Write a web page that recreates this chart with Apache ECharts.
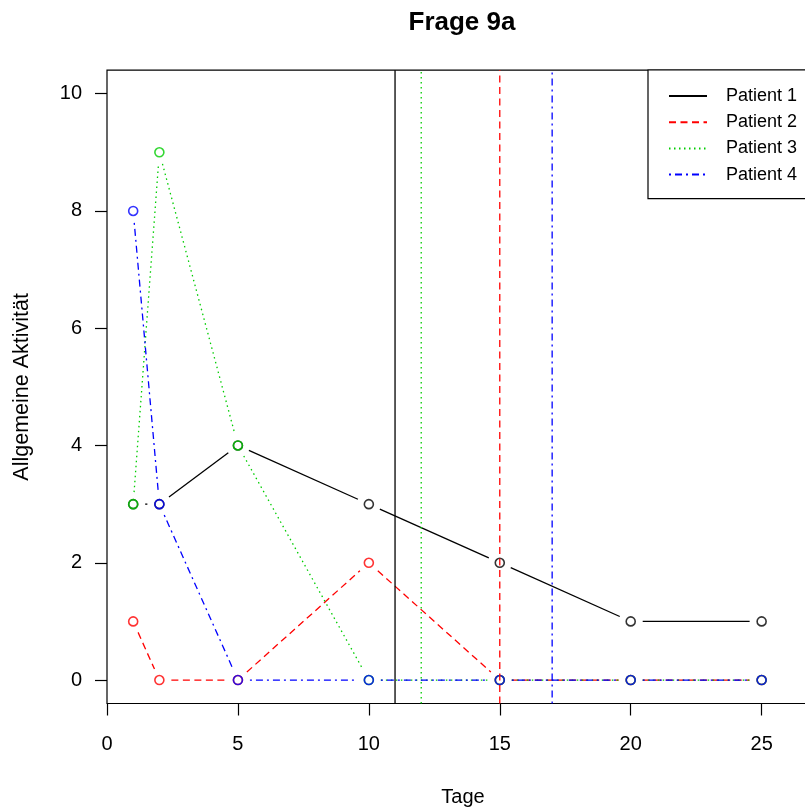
<!DOCTYPE html>
<html>
<head>
<meta charset="utf-8">
<script src="https://cdn.jsdelivr.net/npm/echarts@6/dist/echarts.min.js"></script>
<style>
  html, body { margin: 0; padding: 0; background: #fff; }
  #chart { width: 805px; height: 807px; }
</style>
</head>
<body>
<div id="chart"></div>
<script>
// Daten
const days = [1, 2, 5, 10, 15, 20, 25]
const patient1 = [3, 3, 4, 3, 2, 1, 1]
const patient2 = [1, 0, 0, 2, 0, 0, 0]
const patient3 = [3, 9, 4, 0, 0, 0, 0]
const patient4 = [8, 3, 0, 0, 0, 0, 0]
const cutDays = [11, 15, 12, 17]   // senkrechte Linien je Patient
const xTicks = [0, 5, 10, 15, 20, 25]
const yTicks = [0, 2, 4, 6, 8, 10]

const names = ['Patient 1', 'Patient 2', 'Patient 3', 'Patient 4']
const values = [patient1, patient2, patient3, patient4]
const colors = ['#000000', '#FF0000', '#00CD00', '#0000FF']
const dashes = [null, [7, 4.5], [1.5, 3.5], [2, 4, 7, 4]]

const xMin = 0, xMax = 27
const yMin = -0.4, yMax = 10.4
const gap = 12   // Abstand Linie - Punkt (wie type="b" in R)
const font = "'Liberation Sans', Arial, sans-serif"

const series = []
values.forEach((vals, k) => {
  const segs = []
  for (let i = 0; i < days.length - 1; i++) {
    segs.push([days[i], vals[i], days[i + 1], vals[i + 1]])
  }
  series.push({
    name: names[k] + ' Linie',
    type: 'custom',
    data: segs,
    encode: { x: [0, 2], y: [1, 3] },
    silent: true,
    renderItem: (params, api) => {
      const p1 = api.coord([api.value(0), api.value(1)])
      const p2 = api.coord([api.value(2), api.value(3)])
      const dx = p2[0] - p1[0], dy = p2[1] - p1[1]
      const len = Math.sqrt(dx * dx + dy * dy)
      if (len <= 2 * gap) return null
      const ux = dx / len, uy = dy / len
      return {
        type: 'line',
        shape: {
          x1: p1[0] + ux * gap, y1: p1[1] + uy * gap,
          x2: p2[0] - ux * gap, y2: p2[1] - uy * gap
        },
        style: { stroke: colors[k], lineWidth: 1.3, lineDash: dashes[k], fill: null }
      }
    }
  })
  series.push({
    name: names[k] + ' Punkte',
    type: 'scatter',
    data: days.map((d, i) => [d, vals[i]]),
    symbol: 'circle',
    symbolSize: 9,
    silent: true,
    itemStyle: { color: 'transparent', borderColor: colors[k], borderWidth: 1.6 }
  })
})
// senkrechte Linien, auch fuer die Legende
cutDays.forEach((d, k) => {
  series.push({
    name: names[k],
    type: 'line',
    data: [[d, yMin], [d, yMax]],
    symbol: 'none',
    silent: true,
    itemStyle: { color: colors[k] },
    lineStyle: { color: colors[k], width: 1.3, type: dashes[k] || 'solid' }
  })
})

const chart = echarts.init(document.getElementById('chart'))
chart.setOption({
  animation: false,
  title: {
    text: 'Frage 9a',
    left: 457,
    top: 5,
    textAlign: 'center',
    textStyle: { fontFamily: font, fontSize: 26, fontWeight: 'bold', color: '#000' }
  },
  legend: {
    data: names,
    orient: 'vertical',
    left: 648,
    top: 70,
    padding: [17, 18, 15, 20],
    itemWidth: 38,
    itemHeight: 14,
    itemGap: 8.2,
    backgroundColor: '#fff',
    borderColor: '#000',
    borderWidth: 1.2,
    borderRadius: 0,
    selectedMode: false,
    itemStyle: { opacity: 0 },
    textStyle: { fontFamily: font, fontSize: 18, color: '#000', lineHeight: 18, padding: [0, 0, 0, 14] }
  },
  grid: {
    left: 107,
    top: 70.2,
    width: 707,
    height: 633.3,
    outerBoundsMode: 'none',
    containLabel: false,
    show: true,
    borderColor: '#000',
    borderWidth: 1.2,
    backgroundColor: 'transparent'
  },
  xAxis: {
    type: 'value',
    min: xMin,
    max: xMax,
    name: 'Tage',
    nameLocation: 'middle',
    nameGap: 84,
    nameTextStyle: { fontFamily: font, fontSize: 20, color: '#000', padding: [0, 0, 0, 5] },
    axisLine: { show: false, onZero: false },
    axisTick: { show: true, length: 12, customValues: xTicks, lineStyle: { color: '#000', width: 1.2 } },
    axisLabel: { customValues: xTicks, margin: 31, fontFamily: font, fontSize: 20, color: '#000' },
    splitLine: { show: false }
  },
  yAxis: {
    type: 'value',
    min: yMin,
    max: yMax,
    name: 'Allgemeine Aktivität',
    nameLocation: 'middle',
    nameGap: 74,
    nameTextStyle: { fontFamily: font, fontSize: 21.5, color: '#000' },
    axisLine: { show: false, onZero: false },
    axisTick: { show: true, length: 12, customValues: yTicks, lineStyle: { color: '#000', width: 1.2 } },
    axisLabel: { customValues: yTicks, margin: 25, fontFamily: font, fontSize: 20, color: '#000' },
    splitLine: { show: false }
  },
  series: series
})
</script>
</body>
</html>
